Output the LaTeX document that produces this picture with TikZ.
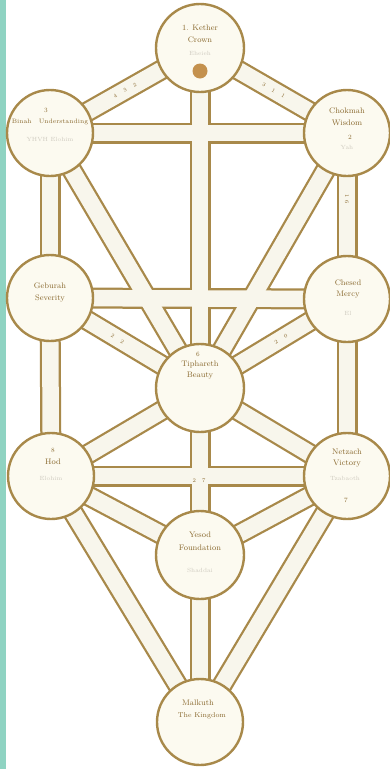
\documentclass[tikz,border=0pt]{standalone}
\definecolor{gold}{HTML}{A8894A}
\definecolor{cream}{HTML}{FCFAF0}
\definecolor{bandin}{HTML}{F8F6EC}
\definecolor{ink}{HTML}{8A6A30}
\definecolor{faint}{HTML}{CFCBC0}
\definecolor{stripcol}{HTML}{8FD3C2}
\definecolor{dotcol}{HTML}{C4914E}
\begin{document}
\begin{tikzpicture}[x=1pt,y=-1pt,
  bandout/.style={draw=gold,line width=21pt},
  bandin/.style={draw=bandin,line width=16.5pt},
  sef/.style={circle,draw=gold,line width=2.4pt,fill=cream,minimum size=#1,inner sep=0pt},
  sef/.default=86pt,
  txt/.style={text=ink,font=\fontsize{8}{9}\selectfont,inner sep=0pt},
  num/.style={text=ink,font=\fontsize{6.5}{7}\selectfont,inner sep=0pt},
  fnt/.style={text=faint,font=\fontsize{6}{7}\selectfont,inner sep=0pt},
  lab/.style={text=ink,font=\fontsize{5.5}{6}\selectfont,inner sep=0pt,sloped}]
\fill[white] (0,0) rectangle (390,769);
\useasboundingbox (0,0) rectangle (390,769);
\fill[stripcol] (0,0) rectangle (6,769);
% centres
\coordinate (K)  at (200,48);
\coordinate (Bi) at (50,133);
\coordinate (Ck) at (347,133);
\coordinate (Ge) at (50,298);
\coordinate (Cs) at (347,299);
\coordinate (Ti) at (200,388);
\coordinate (Ho) at (51,476);
\coordinate (Ne) at (347,476);
\coordinate (Ye) at (200,555);
\coordinate (Ma) at (200,722);
% paths
\foreach \a/\b in {K/Bi,K/Ck,K/Ti,Bi/Ck,Bi/Ge,Ck/Cs,Bi/Ti,Ck/Ti,Ge/Cs,Ge/Ti,Cs/Ti,Ge/Ho,Cs/Ne,Ti/Ho,Ti/Ne,Ho/Ne,Ti/Ye,Ho/Ye,Ne/Ye,Ho/Ma,Ne/Ma,Ye/Ma}
  \draw[bandout] (\a) -- (\b);
\foreach \a/\b in {K/Bi,K/Ck,K/Ti,Bi/Ck,Bi/Ge,Ck/Cs,Bi/Ti,Ck/Ti,Ge/Cs,Ge/Ti,Cs/Ti,Ge/Ho,Cs/Ne,Ti/Ho,Ti/Ne,Ho/Ne,Ti/Ye,Ho/Ye,Ne/Ye,Ho/Ma,Ne/Ma,Ye/Ma}
  \draw[bandin] (\a) -- (\b);
% path labels
\path (K) -- (Bi) node[lab,pos=0.5] (l12) {4 \quad 3 \quad 2};
\path (K) -- (Ck) node[lab,pos=0.5] (l11) {3 \quad 1 \quad 1};
\path (Ge) -- (Ti) node[lab,pos=0.45] (l22) {2 \quad 2};
\path (Cs) -- (Ti) node[lab,pos=0.45] (l20) {2 \quad 0};
\path (Ho) -- (Ne) node[lab,pos=0.5,yshift=-5pt] (l27) {2 \; 7};
\path (Ck) -- (Cs) node[lab,pos=0.4] (l16) {1 6};
% sefirot
\node[sef=88pt] (nK)  at (K)  {};
\node[sef] (nBi) at (Bi) {};
\node[sef] (nCk) at (Ck) {};
\node[sef] (nGe) at (Ge) {};
\node[sef] (nCs) at (Cs) {};
\node[sef=88pt] (nTi) at (Ti) {};
\node[sef] (nHo) at (Ho) {};
\node[sef] (nNe) at (Ne) {};
\node[sef=88pt] (nYe) at (Ye) {};
\node[sef] (nMa) at (Ma) {};
% texts
\node[txt] (tK1) at (200,28) {1. Kether};
\node[txt] (tK2) at (200,40) {Crown};
\node[fnt] (tK3) at (200,53) {Eheieh};
\node[circle,fill=dotcol,minimum size=15pt,inner sep=0pt] (Kdot) at (200,71) {};
\node[num] (tB0) at (46,110) {3};
\node[txt,font=\fontsize{6.3}{7}\selectfont] (tB1) at (50,122) {Binah \; Understanding};
\node[fnt] (tB2) at (50,139) {YHVH Elohim};
\node[txt] (tC1) at (347,111) {Chokmah};
\node[txt] (tC2) at (347,123) {Wisdom};
\node[num] (tC3) at (350,137) {2};
\node[fnt] (tC4) at (347,147) {Yah};
\node[txt] (tG1) at (50,286) {Geburah};
\node[txt] (tG2) at (50,298) {Severity};
\node[txt] (tS1) at (348,283) {Chesed};
\node[txt] (tS2) at (348,295) {Mercy};
\node[fnt] (tS3) at (348,313) {El};
\node[num] (tT0) at (198,354) {6};
\node[txt] (tT1) at (200,364) {Tiphareth};
\node[txt] (tT2) at (200,376) {Beauty};
\node[num] (tH0) at (53,450) {8};
\node[txt] (tH1) at (53,462) {Hod};
\node[fnt] (tH2) at (51,478) {Elohim};
\node[txt] (tN1) at (347,452) {Netzach};
\node[txt] (tN2) at (347,464) {Victory};
\node[fnt] (tN3) at (345,478) {Tzabaoth};
\node[num] (tN4) at (346,500) {7};
\node[txt] (tY1) at (200,535) {Yesod};
\node[txt] (tY2) at (200,548) {Foundation};
\node[fnt] (tY3) at (200,570) {Shaddai};
\node[txt] (tM1) at (198,703) {Malkuth};
\node[txt,font=\fontsize{7}{8}\selectfont] (tM2) at (202,716) {The Kingdom};
\end{tikzpicture}
\end{document}
